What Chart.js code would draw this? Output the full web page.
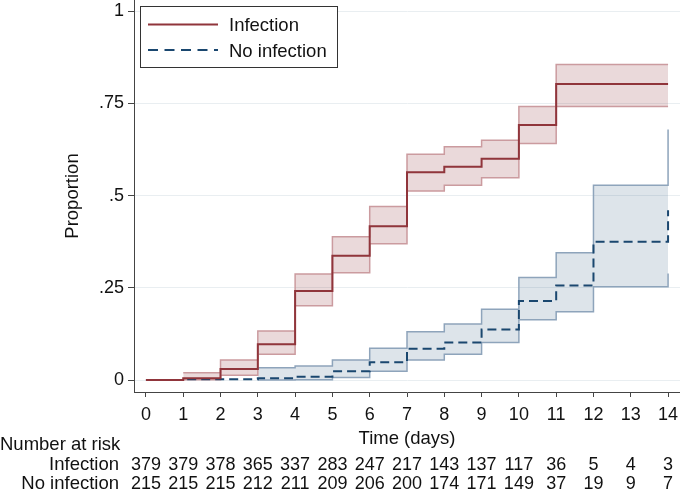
<!DOCTYPE html>
<html>
<head>
<meta charset="utf-8">
<script src="https://cdn.jsdelivr.net/npm/chart.js@4.4.0/dist/chart.umd.min.js"></script>
<style>
  body { margin: 0; background: #fff; }
  #wrap { width: 680px; height: 493px; position: relative; }
</style>
</head>
<body>
<div id="wrap"><canvas id="km"></canvas></div>
<script>
// time axis (days) and y ticks
const days = [0, 1, 2, 3, 4, 5, 6, 7, 8, 9, 10, 11, 12, 13, 14];
const yTicks = [0, 0.25, 0.5, 0.75, 1];
const yTickLabels = ["0", ".25", ".5", ".75", "1"];

// cumulative proportion, value at day i holds until day i+1
const infEst   = [0, 0.005, 0.03, 0.097, 0.241, 0.337, 0.417, 0.563, 0.578, 0.6, 0.691, 0.802, 0.802, 0.802, 0.802];
const infUpper = [null, 0.02, 0.054, 0.133, 0.287, 0.388, 0.47, 0.612, 0.632, 0.65, 0.741, 0.855, 0.855, 0.855, 0.855];
const infLower = [null, 0.001, 0.013, 0.07, 0.201, 0.291, 0.369, 0.512, 0.528, 0.548, 0.641, 0.741, 0.741, 0.741, 0.741];

const noInfEst   = [0, 0.002, 0.002, 0.005, 0.009, 0.024, 0.048, 0.085, 0.102, 0.137, 0.214, 0.256, 0.375, 0.375, 0.46];
const noInfUpper = [null, null, null, 0.033, 0.038, 0.054, 0.086, 0.131, 0.152, 0.192, 0.278, 0.345, 0.528, 0.528, 0.679];
const noInfLower = [null, null, null, 0, 0.001, 0.007, 0.024, 0.054, 0.07, 0.102, 0.163, 0.185, 0.253, 0.253, 0.289];

// number at risk table
const atRiskInf   = [379, 379, 378, 365, 337, 283, 247, 217, 143, 137, 117, 36, 5, 4, 3];
const atRiskNoInf = [215, 215, 215, 212, 211, 209, 206, 200, 174, 171, 149, 37, 19, 9, 7];

const FONT = '"Liberation Sans", Arial, sans-serif';
const RED = "rgb(144,53,59)";
const NAVY = "rgb(26,71,111)";

const pts = arr => days.map((d, i) => ({ x: d, y: arr[i] }));

function stepLine(label, arr, color, width, dash) {
    return {
        label: label,
        data: pts(arr),
        borderColor: color,
        borderWidth: width,
        borderDash: dash || [],
        stepped: true,
        pointRadius: 0,
        fill: false,
    };
}

const riskTable = {
    id: "riskTable",
    afterDraw(chart) {
        const ctx = chart.ctx;
        const x = chart.scales.x;
        ctx.save();
        ctx.fillStyle = "#111";
        ctx.textBaseline = "alphabetic";
        ctx.font = "18.5px " + FONT;
        ctx.textAlign = "left";
        ctx.fillText("Number at risk", 0, 450);
        ctx.textAlign = "right";
        ctx.fillText("Infection", 119, 469.5);
        ctx.fillText("No infection", 119, 489);
        ctx.font = "18px " + FONT;
        ctx.textAlign = "center";
        days.forEach((d, i) => {
            const px = x.getPixelForValue(d);
            ctx.fillText(String(atRiskInf[i]), px, 469.5);
            ctx.fillText(String(atRiskNoInf[i]), px, 489);
        });
        ctx.restore();
    },
};

const kmLegend = {
    id: "kmLegend",
    afterDraw(chart) {
        const ctx = chart.ctx;
        ctx.save();
        ctx.fillStyle = "#fff";
        ctx.fillRect(140.5, 6.5, 197, 61);
        ctx.strokeStyle = "#333";
        ctx.lineWidth = 1;
        ctx.strokeRect(140.5, 6.5, 197, 61);

        ctx.lineWidth = 2;
        ctx.strokeStyle = RED;
        ctx.beginPath();
        ctx.moveTo(148, 24.5);
        ctx.lineTo(218, 24.5);
        ctx.stroke();

        ctx.strokeStyle = NAVY;
        ctx.setLineDash([10, 6.5]);
        ctx.beginPath();
        ctx.moveTo(148, 50);
        ctx.lineTo(218, 50);
        ctx.stroke();
        ctx.setLineDash([]);

        ctx.fillStyle = "#111";
        ctx.font = "18.5px " + FONT;
        ctx.textAlign = "left";
        ctx.textBaseline = "alphabetic";
        ctx.fillText(chart.data.datasets[0].label, 229, 31);
        ctx.fillText(chart.data.datasets[1].label, 229, 56.5);
        ctx.restore();
    },
};

const km = document.getElementById("km");
const kmChart = new Chart(km, {
    type: "line",
    data: {
        datasets: [
            stepLine("Infection", infEst, RED, 2),
            stepLine("No infection", noInfEst, NAVY, 2, [9, 5]),
            stepLine("inf upper", infUpper, "rgb(203,155,159)", 1.5),
            Object.assign(stepLine("inf lower", infLower, "rgb(203,155,159)", 1.5), {
                fill: "-1",
                backgroundColor: "rgba(144,53,59,0.19)",
            }),
            stepLine("no inf upper", noInfUpper, "rgb(142,164,187)", 1.5),
            Object.assign(stepLine("no inf lower", noInfLower, "rgb(142,164,187)", 1.5), {
                fill: "-1",
                backgroundColor: "rgba(26,71,111,0.15)",
            }),
        ],
    },
    options: {
        responsive: true,
        maintainAspectRatio: false,
        animation: false,
        layout: { padding: 0 },
        plugins: {
            legend: { display: false },
            tooltip: { enabled: false },
        },
        scales: {
            x: {
                type: "linear",
                min: -0.32,
                max: 14.32,
                afterBuildTicks: s => { s.ticks = days.map(v => ({ value: v })); },
                afterFit: s => { s.height = 101; s.paddingLeft = 0; s.paddingRight = 0; },
                ticks: { font: { size: 18, family: FONT }, color: "#111", padding: 7, maxRotation: 0, autoSkip: false },
                grid: { drawOnChartArea: false, tickColor: "#444", tickLength: 5 },
                border: { color: "#444", width: 1 },
                title: {
                    display: true,
                    text: "Time (days)",
                    font: { size: 18.5, family: FONT },
                    color: "#111",
                    padding: { top: 0, bottom: 43 },
                },
            },
            y: {
                type: "linear",
                min: -0.0325,
                max: 1.03,
                afterBuildTicks: s => { s.ticks = yTicks.map(v => ({ value: v })); },
                afterFit: s => { s.width = 134; s.paddingTop = 0; s.paddingBottom = 0; },
                ticks: {
                    callback: (v, i) => yTickLabels[i],
                    font: { size: 18, family: FONT },
                    color: "#111",
                    padding: 4,
                },
                grid: { color: "#e9eef1", lineWidth: 1, tickColor: "#444", tickLength: 6 },
                border: { color: "#444", width: 1 },
                title: {
                    display: true,
                    text: "Proportion",
                    font: { size: 18.5, family: FONT },
                    color: "#111",
                    padding: { top: 62, bottom: 0 },
                },
            },
        },
    },
    plugins: [kmLegend, riskTable],
});
</script>
</body>
</html>
